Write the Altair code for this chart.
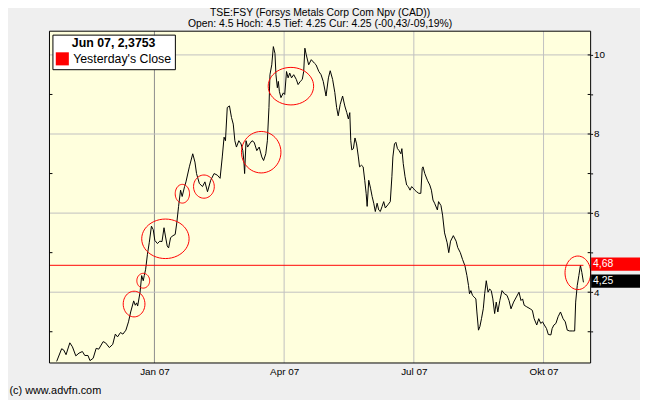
import altair as alt
import pandas as pd

FONT = "Liberation Sans"

title_lines = [
    "TSE:FSY (Forsys Metals Corp Com Npv (CAD))",
    "Open: 4.5 Hoch: 4.5 Tief: 4.25 Cur: 4.25 (-00,43/-09,19%)",
]
copyright_text = "(c) www.advfn.com"

# (trading day since 2006-10-24, close)
price_points = [
    (0.0, 2.25), (2.5, 2.57), (3.5, 2.54), (4.7, 2.42), (6.6, 2.72), (7.9, 2.62),
    (9.6, 2.39), (11.2, 2.46), (12.9, 2.50), (14.1, 2.40), (15.7, 2.40), (16.7, 2.27),
    (18.3, 2.33), (19.8, 2.58), (21.1, 2.56), (23.3, 2.75), (24.5, 2.72), (26.4, 2.60),
    (28.1, 2.68), (29.4, 2.94), (30.5, 2.87), (32.0, 2.98), (33.2, 2.94), (34.7, 3.04),
    (36.0, 3.25), (37.1, 3.50), (38.6, 3.78), (39.4, 3.67), (40.1, 3.73), (40.6, 3.65),
    (41.8, 4.00), (42.6, 4.42), (43.4, 4.29), (43.9, 4.42), (44.6, 4.58), (45.5, 4.96),
    (46.4, 5.25), (47.5, 5.67), (48.4, 5.58), (49.2, 5.31), (50.5, 5.23), (51.7, 5.29),
    (52.8, 5.28), (53.8, 5.63), (54.5, 5.42), (55.4, 5.17), (56.1, 5.12), (57.1, 5.38),
    (58.3, 5.43), (59.4, 5.46), (60.2, 5.75), (61.1, 6.17), (62.1, 6.58), (62.9, 6.42),
    (64.1, 6.67), (64.8, 6.79), (66.5, 7.17), (68.2, 7.50), (69.3, 7.29), (70.1, 7.00),
    (71.5, 6.75), (73.1, 6.67), (74.3, 6.79), (75.6, 6.54), (77.2, 6.83), (78.9, 7.00),
    (80.5, 6.96), (81.9, 6.88), (83.0, 7.42), (83.9, 7.92), (84.6, 7.83), (85.5, 8.67),
    (86.6, 8.71), (87.6, 8.42), (88.5, 8.25), (89.3, 7.83), (90.1, 7.67), (91.3, 7.83),
    (92.4, 7.75), (93.3, 7.58), (93.8, 7.33), (94.2, 7.00), (94.9, 7.83), (95.7, 7.67),
    (96.7, 7.75), (97.9, 7.83), (99.0, 7.79), (100.3, 7.58), (101.5, 7.67), (102.8, 7.42),
    (103.7, 7.33), (104.8, 7.50), (105.6, 7.83), (106.4, 8.67), (106.9, 9.50), (107.8, 9.75),
    (108.6, 10.21), (109.4, 10.04), (109.9, 9.50), (110.6, 9.17), (111.1, 9.33), (111.6, 9.08),
    (112.4, 8.92), (113.6, 9.04), (114.3, 9.00), (115.2, 9.58), (116.0, 9.42), (116.8, 9.54),
    (117.7, 9.42), (118.8, 9.50), (120.1, 9.38), (121.0, 9.25), (122.1, 9.33), (123.1, 9.38),
    (123.8, 9.58), (124.4, 10.17), (125.1, 10.00), (126.3, 9.75), (127.6, 9.88), (129.2, 9.79),
    (130.0, 9.75), (131.4, 9.58), (132.5, 9.50), (133.6, 9.33), (135.0, 8.96), (136.2, 9.42),
    (137.1, 9.60), (138.3, 9.38), (139.4, 9.05), (140.3, 8.67), (141.1, 8.46), (142.1, 8.75),
    (143.3, 8.96), (144.4, 8.71), (145.4, 8.54), (146.2, 8.38), (146.9, 8.54), (147.4, 7.83),
    (147.9, 7.60), (148.7, 7.63), (149.5, 7.90), (150.3, 7.75), (151.2, 7.42), (151.8, 7.17),
    (152.8, 7.21), (153.6, 7.17), (154.4, 6.83), (155.1, 6.50), (155.6, 6.17), (156.4, 6.83),
    (157.3, 6.63), (158.1, 6.42), (158.9, 6.25), (159.7, 6.04), (160.6, 6.25), (161.4, 6.08),
    (162.2, 6.04), (163.1, 6.17), (163.9, 6.29), (164.7, 6.13), (166.0, 6.21), (167.2, 6.29),
    (168.0, 6.92), (168.5, 7.42), (169.3, 7.75), (170.0, 7.79), (170.8, 7.63), (171.6, 7.58),
    (172.5, 7.50), (173.0, 7.63), (173.7, 7.25), (174.6, 6.92), (175.4, 6.71), (176.2, 6.67),
    (177.1, 6.58), (177.9, 6.67), (178.7, 6.63), (179.5, 6.58), (180.4, 6.54), (181.5, 6.50),
    (182.5, 6.50), (183.2, 7.13), (183.6, 7.17), (184.5, 7.00), (185.8, 6.83), (187.0, 6.71),
    (187.8, 6.58), (188.6, 6.33), (189.4, 6.25), (190.8, 6.08), (191.4, 6.29), (192.6, 6.19),
    (193.4, 5.95), (194.4, 5.50), (195.7, 5.25), (196.5, 5.00), (197.4, 5.29), (198.8, 5.43),
    (200.2, 5.29), (201.0, 5.13), (202.3, 5.00), (203.4, 4.83), (204.6, 4.67), (205.6, 4.42),
    (206.4, 4.17), (206.9, 3.96), (207.6, 4.04), (208.4, 3.92), (209.2, 3.88), (210.1, 3.83),
    (210.6, 3.50), (211.4, 3.04), (212.1, 3.13), (212.9, 3.33), (213.8, 3.58), (214.5, 3.96),
    (215.3, 4.29), (216.2, 4.00), (217.0, 4.08), (217.8, 4.04), (218.6, 3.83), (219.5, 3.46),
    (220.3, 3.75), (221.1, 3.50), (222.1, 3.79), (223.2, 4.04), (224.4, 3.96), (225.7, 3.92),
    (226.7, 3.79), (227.7, 3.58), (229.0, 3.75), (230.4, 3.88), (231.7, 4.00), (232.7, 3.79),
    (233.5, 3.83), (234.3, 3.67), (235.6, 3.63), (237.3, 3.58), (238.4, 3.54), (239.3, 3.33),
    (240.6, 3.17), (241.6, 3.33), (242.6, 3.21), (243.5, 3.25), (244.4, 3.17), (245.5, 3.08),
    (246.4, 2.93), (247.7, 2.92), (248.3, 3.08), (249.2, 3.17), (250.2, 3.21), (251.3, 3.38),
    (252.5, 3.50), (253.8, 3.33), (254.9, 3.25), (255.9, 3.04), (257.1, 3.02), (258.4, 3.02),
    (259.6, 3.02), (260.1, 3.75), (260.9, 4.17), (261.7, 4.42), (262.5, 4.68), (263.2, 4.50),
    (264.0, 4.25),
]

# trading-day positions of 2007-01-01, 2007-04-02, 2007-07-02, 2007-10-01
month_ticks = [49, 114, 179, 244]
month_labels = ["Jan 07", "Apr 07", "Jul 07", "Okt 07"]
year_tick = 49

y_major = [4, 6, 8, 10]
y_minor = [3, 5, 7, 9]

prev_close = 4.68
last_day = 264.0
tag_values = [4.68, 4.25]
tag_labels = ["4,68", "4,25"]
tag_colors = ["#FF0000", "#000000"]

legend_title = "Jun 07, 2,3753"
legend_label = "Yesterday's Close"

# annotation ellipses: (day, price, width px, height px)
circles = [
    (38.8, 3.70, 22, 26), (43.4, 4.29, 13, 15), (54.5, 5.35, 48, 40),
    (63.0, 6.49, 14.5, 19), (73.8, 6.67, 21, 23.5), (102.5, 7.54, 40, 42),
    (117.4, 9.21, 46, 38), (261.2, 4.49, 26, 34),
]

x_domain = [-3.6, 267.6]
y_domain = [2.21, 10.6]

W, H = 548, 336
PLOT_BG = "#FFFFDD"
PAGE_BG = "#EFEFEF"

df = pd.DataFrame(price_points, columns=["day", "close"])

xs = alt.Scale(domain=x_domain, nice=False, zero=False)
ys = alt.Scale(domain=y_domain, nice=False, zero=False)

label_expr = " : ".join(
    f"datum.value == {v} ? '{l}'" for v, l in zip(month_ticks, month_labels)
) + " : ''"

x_axis = alt.Axis(
    values=month_ticks, labelExpr=label_expr, grid=False,
    ticks=False, domain=False,
    labelFont=FONT, labelFontSize=10, labelColor="black", labelPadding=4,
    labelFlush=False,
    title=copyright_text, titleX=-41, titleY=28, titleAlign="left",
    titleBaseline="middle", titleFont=FONT, titleFontSize=11,
    titleFontWeight="normal", titleColor="black",
)
all_y = sorted(y_major + y_minor)
y_axis = alt.Axis(
    orient="right", values=all_y,
    labelExpr="datum.value % 2 == 0 ? datum.label : ''",
    grid=False,
    tickSize=2, tickColor="black", domain=False,
    labelFont=FONT, labelFontSize=10, labelColor="black", labelPadding=1,
    labelBaseline="middle", title=None,
)


def X(field):
    return alt.X(field, scale=xs, axis=x_axis)


def Y(field):
    return alt.Y(field, scale=ys, axis=y_axis)


one_row = alt.Data(values=[{}])

plot_bg = alt.Chart(one_row).mark_rect(color=PLOT_BG).encode(
    x=alt.value(0), x2=alt.value(W), y=alt.value(0), y2=alt.value(H)
)

xgrid_df = pd.DataFrame({"d": month_ticks,
                         "gc": ["#8C8C8C" if v == year_tick else "#C0C0C0" for v in month_ticks]})
x_grid = alt.Chart(xgrid_df).mark_rule(strokeWidth=1).encode(
    x=X("d:Q"), color=alt.Color("gc:N", scale=None),
)
y_grid = alt.Chart(pd.DataFrame({"v": y_major})).mark_rule(
    color="#C0C0C0", strokeWidth=1
).encode(y=Y("v:Q"))

line = alt.Chart(df).mark_line(color="black", strokeWidth=1).encode(
    x=X("day:Q"), y=Y("close:Q"),
)

rule_df = pd.DataFrame({"y": [prev_close], "d0": [x_domain[0]], "d1": [last_day]})
red_rule = alt.Chart(rule_df).mark_rule(color="#FF0000", strokeWidth=1).encode(
    x=X("d0:Q"), x2="d1:Q", y=Y("y:Q"),
)

legend_layer = alt.Chart(alt.Data(values=[])).mark_square(filled=True).encode(
    color=alt.Color(
        "series:N",
        scale=alt.Scale(domain=[legend_label], range=["#FF0000"]),
        legend=alt.Legend(
            title=legend_title, orient="none", legendX=3, legendY=3.5,
            direction="vertical", fillColor="white", strokeColor="black",
            padding=3, titleFont=FONT, titleFontSize=12.5, titleFontWeight="bold",
            titleColor="black", titleAnchor="middle", titlePadding=2,
            labelFont=FONT, labelFontSize=12.5, labelColor="black",
            symbolType="square", symbolSize=175, symbolStrokeWidth=0,
            symbolOpacity=1, labelOffset=4,
        ),
    )
)


def ellipse_path(w, h, n=48):
    import math
    s = max(w, h)
    a, b = w / s, h / s
    pts = []
    for i in range(n):
        ang = 2 * math.pi * i / n
        pts.append(f"{a * math.cos(ang):.4f},{b * math.sin(ang):.4f}")
    return "M" + " L".join(pts) + " Z"


circ_df = pd.DataFrame({
    "day": [c[0] for c in circles],
    "price": [c[1] for c in circles],
    "path": [ellipse_path(c[2], c[3]) for c in circles],
    "sz": [max(c[2], c[3]) ** 2 for c in circles],
})
circ_layer = alt.Chart(circ_df).mark_point(
    filled=False, color="#FF0000", strokeWidth=1, opacity=1
).encode(
    x=X("day:Q"), y=Y("price:Q"),
    shape=alt.Shape("path:N", scale=None),
    size=alt.Size("sz:Q", scale=None),
)

tag_df = pd.DataFrame({"v": tag_values, "label": tag_labels, "c": tag_colors})
tag_rect = alt.Chart(tag_df).mark_rect(yOffset=-7.8, y2Offset=5.6).encode(
    x=alt.value(W + 0.5), x2=alt.value(W + 50),
    y=Y("v:Q"), y2="v:Q",
    color=alt.Color("c:N", scale=None),
)
tag_text = alt.Chart(tag_df).mark_text(
    align="left", baseline="middle", color="white", font=FONT, fontSize=10.5, dy=-1
).encode(
    x=alt.value(W + 2.5), y=Y("v:Q"), text="label:N",
)

left_ticks = alt.Chart(pd.DataFrame({"v": y_minor})).mark_rule(
    color="black", strokeWidth=1
).encode(x=alt.value(0), x2=alt.value(3), y=Y("v:Q"))
right_ticks = alt.Chart(pd.DataFrame({"v": all_y})).mark_rule(
    color="black", strokeWidth=1
).encode(x=alt.value(W - 3), x2=alt.value(W), y=Y("v:Q"))

border = alt.Chart(one_row).mark_rect(
    fillOpacity=0, stroke="black", strokeWidth=1
).encode(x=alt.value(0), x2=alt.value(W), y=alt.value(0), y2=alt.value(H))

chart = alt.layer(
    plot_bg, x_grid, y_grid, line, red_rule, circ_layer, tag_rect, tag_text,
    left_ticks, right_ticks, border, legend_layer
).properties(
    width=W, height=H,
    title=alt.TitleParams(
        text=title_lines, font=FONT, fontSize=10.5, fontWeight="normal",
        color="black", anchor="middle", offset=1, lineHeight=11.5, baseline="bottom",
        dy=10,
    ),
    background=PAGE_BG,
    padding={"left": 42, "top": 21, "right": 50, "bottom": 35},
    autosize=alt.AutoSizeParams(type="none"),
).configure_view(
    stroke=None
)

chart.save("out.html", embed_options={"renderer": "svg", "actions": False})
